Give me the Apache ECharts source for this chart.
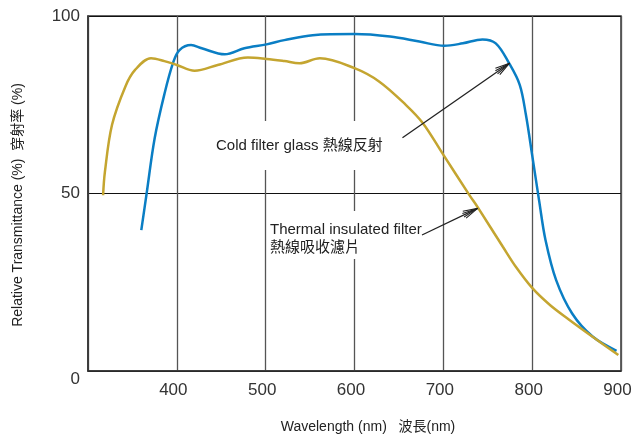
<!DOCTYPE html>
<html><head><meta charset="utf-8">
<script src="https://cdn.jsdelivr.net/npm/echarts@6/dist/echarts.min.js"></script>
<style>html,body{margin:0;padding:0;background:#fff}#c{width:635px;height:434px}</style>
</head><body><div id="c"></div>
<script>
// Cold filter glass 熱線反射 (blue)
const coldX = [360, 366, 375, 386, 396, 403, 416, 428, 454, 476, 501, 521, 553, 600, 640, 673, 701, 722, 744, 759, 774, 786, 793, 800, 808, 815, 827, 845, 868, 895];
const coldY = [39.7, 50, 65.5, 78, 87, 90.4, 91.8, 90.9, 89.2, 90.9, 92, 93.2, 94.6, 94.9, 94.2, 92.8, 91.6, 92.3, 93.4, 92.3, 86.7, 80.6, 72.1, 60.8, 47.7, 36.9, 25.6, 16.2, 9.7, 5.7];
// Thermal insulated filter 熱線吸收濾片 (yellow)
const thermX = [317, 319, 327, 342, 353, 371, 386, 400, 420, 446, 480, 501, 521, 538, 561, 600, 628, 658, 677, 699, 729, 739, 767, 782, 800, 820, 842, 870, 897];
const thermY = [49.5, 56, 69.3, 80.1, 84.8, 88.1, 87.3, 86.2, 84.6, 86.2, 88.3, 87.9, 87.3, 86.7, 88.1, 85.3, 81.5, 74.9, 69.8, 61.3, 49.7, 46, 35, 29.2, 23.4, 18.6, 14.4, 9.3, 4.5];
const xTicks = [300, 400, 500, 600, 700, 800, 900];
const yTicks = [0, 50, 100];
// annotation arrows: [startX, startY, tipX, tipY] in data units
const arrowCold = [654, 65.7, 774.5, 86.7];
const arrowTherm = [676, 38.3, 738.5, 45.8];

const FONT = '"Liberation Sans", "Noto Sans CJK TC", Arial, sans-serif';
const chart = echarts.init(document.getElementById('c'), null, {renderer: 'canvas'});
const zip = (a, b) => a.map((v, i) => [v, b[i]]);

chart.setOption({
  animation: false,
  grid: {left: 88, right: 14, top: 16, bottom: 63, show: true, borderColor: '#333', borderWidth: 1.5},
  xAxis: {
    type: 'value', min: xTicks[0], max: xTicks[xTicks.length - 1], interval: 100,
    axisLine: {show: true, lineStyle: {color: '#333', width: 1.5}},
    axisTick: {show: false},
    axisLabel: {formatter: v => v === xTicks[0] ? '' : String(v), margin: 11, fontSize: 17, color: '#333', fontFamily: FONT, padding: [0, 7, 0, 0]},
    splitLine: {show: true, lineStyle: {color: '#555', width: 1.3}}
  },
  yAxis: {
    type: 'value', min: yTicks[0], max: yTicks[yTicks.length - 1], interval: 50,
    axisLine: {show: true, lineStyle: {color: '#333', width: 1.5}},
    axisTick: {show: false},
    axisLabel: {
      formatter: v => v === 0 ? '{z|0}' : String(v), margin: 8, fontSize: 17, color: '#333', fontFamily: FONT,
      rich: {z: {fontSize: 17, color: '#333', fontFamily: FONT, padding: [16, 0, 0, 0]}}
    },
    splitLine: {show: true, lineStyle: {color: '#111', width: 1}}
  },
  series: [
    {type: 'line', data: zip(coldX, coldY), smooth: 0.35, symbol: 'none', lineStyle: {color: '#0a7ec4', width: 2.5}, z: 3},
    {type: 'line', data: zip(thermX, thermY), smooth: 0.35, symbol: 'none', lineStyle: {color: '#c4a530', width: 2.5}, z: 3}
  ]
});

function arrow(a) {
  const s = chart.convertToPixel({gridIndex: 0}, [a[0], a[1]]);
  const t = chart.convertToPixel({gridIndex: 0}, [a[2], a[3]]);
  const th = Math.atan2(t[1] - s[1], t[0] - s[0]);
  const els = [{type: 'line', shape: {x1: s[0], y1: s[1], x2: t[0], y2: t[1]}, style: {stroke: '#222', lineWidth: 1.3}, z: 10}];
  [[0.26, 15], [-0.26, 15], [0.12, 16], [-0.12, 16]].forEach(([da, L]) => {
    els.push({type: 'line', shape: {x1: t[0], y1: t[1], x2: t[0] - L * Math.cos(th + da), y2: t[1] - L * Math.sin(th + da)}, style: {stroke: '#222', lineWidth: 1.1}, z: 10});
  });
  return els;
}

const graphic = [
  {type: 'rect', shape: {x: 205, y: 121, width: 193, height: 49}, style: {fill: '#fff'}, z: 5},
  {type: 'rect', shape: {x: 268, y: 211, width: 152, height: 48}, style: {fill: '#fff'}, z: 5},
  {type: 'text', x: 216, y: 146, style: {text: 'Cold filter glass 熱線反射', font: '15px ' + FONT, fill: '#222', verticalAlign: 'middle'}, z: 11},
  {type: 'text', x: 270, y: 230, style: {text: 'Thermal insulated filter', font: '15px ' + FONT, fill: '#222', verticalAlign: 'middle'}, z: 11},
  {type: 'text', x: 270, y: 248, style: {text: '熱線吸收濾片', font: '15px ' + FONT, fill: '#222', verticalAlign: 'middle'}, z: 11},
  {type: 'text', x: 368, y: 427, style: {text: 'Wavelength (nm)   波長(nm)', font: '14px ' + FONT, fill: '#222', align: 'center', verticalAlign: 'middle'}, z: 11},
  {type: 'text', x: 18, y: 205, rotation: Math.PI / 2, style: {text: 'Relative Transmittance (%)  穿射率 (%)', font: '14px ' + FONT, fill: '#222', align: 'center', verticalAlign: 'middle'}, z: 11}
].concat(arrow(arrowCold), arrow(arrowTherm));
chart.setOption({graphic: graphic});
</script>
</body></html>
